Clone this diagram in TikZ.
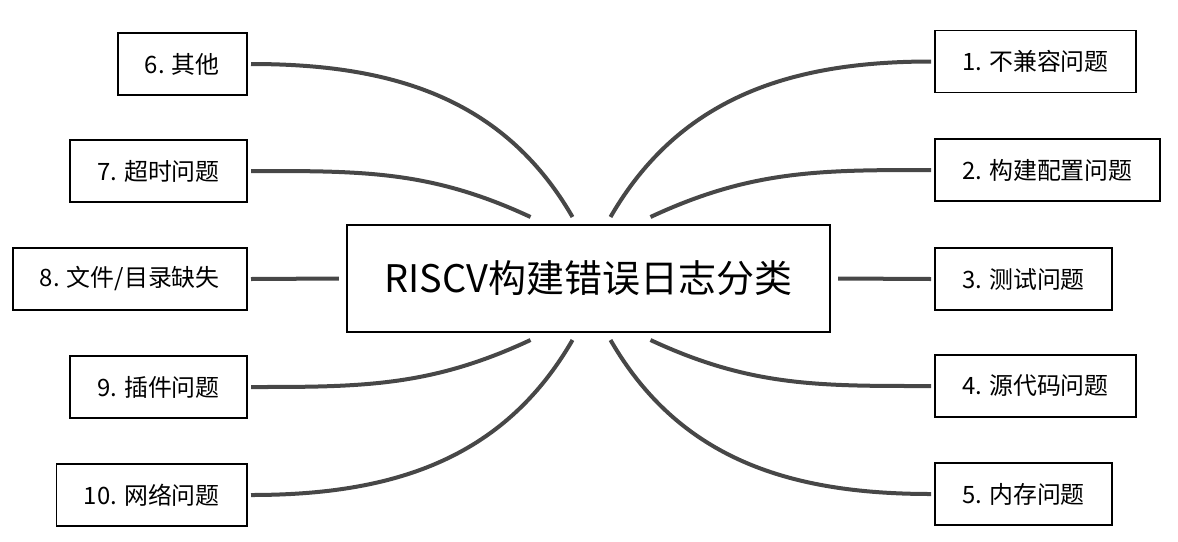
\documentclass[tikz,border=0pt]{standalone}
\usepackage{fontspec}
\setmainfont{Noto Sans CJK SC}
\usepackage{tikz}
\usetikzlibrary{calc}

\definecolor{branchgray}{HTML}{474747}

\begin{document}
\begin{tikzpicture}[x=0.025cm, y=0.025cm,
    rootbox/.style={draw, line width=1.8pt, minimum width=12.075cm, minimum height=2.675cm,
        inner sep=0pt, outer sep=0.2cm, font=\fontsize{27}{32}\selectfont},
    leafbox/.style={draw, line width=1.2pt, minimum height=1.55cm, inner xsep=0.68cm,
        inner ysep=0pt, outer sep=0.1cm, font=\fontsize{17}{20}\selectfont},
    branch/.style={draw=branchgray, line width=0.1cm}]
            \useasboundingbox (0,0) rectangle (1178,-541);

            % Root of the mind map
            \node (title) [rootbox] at (588.5,-278.5) {RISCV构建错误日志分类};

            % Categories on the right
            \node (r1) [leafbox, anchor=west] at (931,-61.5) {1. 不兼容问题};
            \node (r2) [leafbox, anchor=west] at (931,-170) {2. 构建配置问题};
            \node (r3) [leafbox, anchor=west] at (931,-279) {3. 测试问题};
            \node (r4) [leafbox, anchor=west] at (931,-386) {4. 源代码问题};
            \node (r5) [leafbox, anchor=west] at (931,-494) {5. 内存问题};

            % Categories on the left
            \node (l6) [leafbox, anchor=east] at (251,-64) {6. 其他};
            \node (l7) [leafbox, anchor=east] at (251,-171) {7. 超时问题};
            \node (l8) [leafbox, anchor=east] at (251,-279) {8. 文件/目录缺失};
            \node (l9) [leafbox, anchor=east] at (251,-387) {9. 插件问题};
            \node (l10) [leafbox, anchor=east] at (251,-495) {10. 网络问题};

            % Branches to the right
            \draw[branch] ($(title.north)+(22,0)$) to[out=60, in=180] (r1.west);
            \draw[branch] ($(title.north)+(62,0)$) to[out=25, in=180] (r2.west);
            \draw[branch] (title.east) -- (r3.west);
            \draw[branch] ($(title.south)+(62,0)$) to[out=-25, in=180] (r4.west);
            \draw[branch] ($(title.south)+(22,0)$) to[out=-60, in=180] (r5.west);

            % Branches to the left
            \draw[branch] ($(title.north)+(-16,0)$) to[out=120, in=0] (l6.east);
            \draw[branch] ($(title.north)+(-58,0)$) to[out=155, in=0] (l7.east);
            \draw[branch] (title.west) -- (l8.east);
            \draw[branch] ($(title.south)+(-58,0)$) to[out=-155, in=0] (l9.east);
            \draw[branch] ($(title.south)+(-16,0)$) to[out=-120, in=0] (l10.east);
        \end{tikzpicture}
\end{document}
